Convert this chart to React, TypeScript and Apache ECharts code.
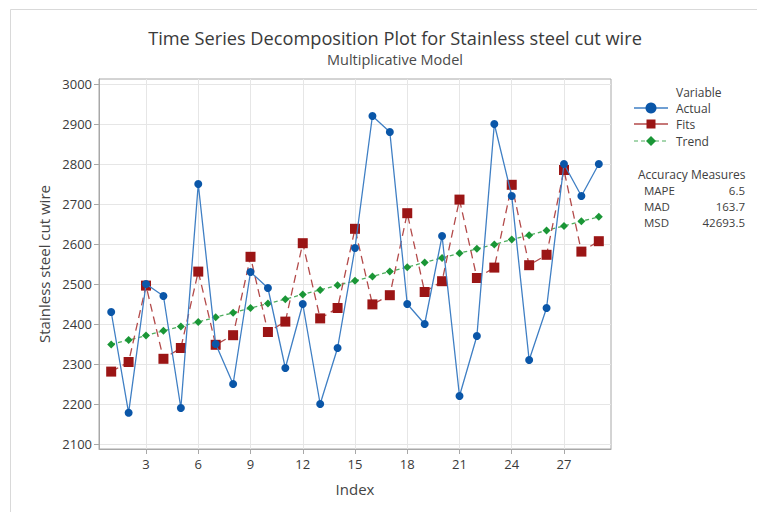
import React, { useEffect, useRef } from "react";
import * as echarts from "echarts";

const indexValues = [1,2,3,4,5,6,7,8,9,10,11,12,13,14,15,16,17,18,19,20,21,22,23,24,25,26,27,28,29];
const actualValues = [2430,2178,2500,2470,2190,2750,2350,2250,2530,2490,2290,2450,2200,2340,2590,2920,2880,2450,2400,2620,2220,2370,2900,2720,2310,2440,2800,2720,2800];
const fitsValues = [2281,2305,2496,2313,2340,2531,2348,2372,2568,2380,2406,2602,2414,2440,2638,2449,2472,2677,2480,2507,2711,2515,2541,2748,2547,2573,2785,2581,2607];
const trendValues = [2349,2360,2371,2383,2394,2405,2417,2428,2440,2451,2462,2474,2485,2497,2508,2519,2531,2542,2554,2565,2577,2588,2599,2611,2622,2634,2645,2657,2668];
const yTicks = [2100,2200,2300,2400,2500,2600,2700,2800,2900,3000];
const xTicks = [3,6,9,12,15,18,21,24,27];
const legendNames = ["Actual", "Fits", "Trend"];
const measureNames = ["MAPE", "MAD", "MSD"];
const measureValues = ["6.5", "163.7", "42693.5"];

const FONT = "'Open Sans', 'Noto Sans', sans-serif";
const BLUE = "#0a56a8";
const BLUE_LINE = "#3f7fc4";
const RED = "#9b1515";
const RED_LINE = "#b34a4a";
const GREEN = "#1a9636";
const GREEN_LINE = "#4fae5f";

export default function App() {
  const ref = useRef<HTMLDivElement>(null);
  useEffect(() => {
    document.body.style.margin = "0";
    const chart = echarts.init(ref.current!, null, { renderer: "svg" });
    const pair = (vals: number[]) => vals.map((v, i) => [indexValues[i], v]);
    const legendX = 634, legendW = 34, legendTextX = 676;
    const legendYs = [108, 124, 141];
    const txt = (size: number) => ({ font: `${size}px ${FONT}`, fill: "#404040", verticalAlign: "middle", lineHeight: 13 });
    const graphics: any[] = [
      { type: "rect", shape: { x: 10.5, y: 9.5, width: 800, height: 520 }, style: { fill: "none", stroke: "#d9d9d9", lineWidth: 1 }, silent: true },
      { type: "text", x: legendTextX, y: 92, style: { text: "Variable", ...txt(12) } },
      // Actual
      { type: "line", shape: { x1: legendX, y1: legendYs[0], x2: legendX + legendW, y2: legendYs[0] }, style: { stroke: BLUE_LINE, lineWidth: 1.5 } },
      { type: "circle", shape: { cx: legendX + legendW / 2, cy: legendYs[0], r: 5.5 }, style: { fill: BLUE } },
      // Fits
      { type: "line", shape: { x1: legendX, y1: legendYs[1], x2: legendX + legendW, y2: legendYs[1] }, style: { stroke: RED_LINE, lineWidth: 1.5 } },
      { type: "rect", shape: { x: legendX + legendW / 2 - 4.5, y: legendYs[1] - 4.5, width: 9, height: 9 }, style: { fill: RED } },
      // Trend
      { type: "line", shape: { x1: legendX, y1: legendYs[2], x2: legendX + legendW, y2: legendYs[2] }, style: { stroke: GREEN_LINE, lineWidth: 1.2, lineDash: [4, 3] } },
      { type: "polygon", shape: { points: [[legendX + legendW / 2, legendYs[2] - 5], [legendX + legendW / 2 + 5, legendYs[2]], [legendX + legendW / 2, legendYs[2] + 5], [legendX + legendW / 2 - 5, legendYs[2]]] }, style: { fill: GREEN } },
      { type: "text", x: 638, y: 174, style: { text: "Accuracy Measures", ...txt(12) } },
    ];
    legendNames.forEach((n, i) => {
      graphics.push({ type: "text", x: legendTextX, y: legendYs[i], style: { text: n, ...txt(12) } });
    });
    measureNames.forEach((n, i) => {
      const y = 190 + i * 16;
      graphics.push({ type: "text", x: 644, y, style: { text: n, ...txt(11.5) } });
      graphics.push({ type: "text", x: 745, y, style: { text: measureValues[i], ...txt(11.5), align: "right" } });
    });

    chart.setOption({
      animation: false,
      backgroundColor: "#ffffff",
      title: [
        { text: "Time Series Decomposition Plot for Stainless steel cut wire", left: 390, top: 24, textAlign: "center", textStyle: { fontFamily: FONT, fontSize: 18.2, fontWeight: "normal", color: "#3a3a3a" } },
        { text: "Multiplicative Model", left: 390, top: 47, textAlign: "center", textStyle: { fontFamily: FONT, fontSize: 14.5, fontWeight: "normal", color: "#4a4a4a" } },
      ],
      grid: { left: 99, top: 79, width: 512, height: 370, show: true, borderColor: "#a8a8a8", borderWidth: 1, backgroundColor: "transparent" },
      xAxis: {
        type: "value", min: 0.3, max: 29.7,
        name: "Index", nameLocation: "middle", nameGap: 32,
        nameTextStyle: { fontFamily: FONT, fontSize: 15, color: "#444" },
        axisLine: { show: true, lineStyle: { color: "#a8a8a8" } },
        axisTick: { show: true, length: 5, lineStyle: { color: "#a8a8a8" }, customValues: xTicks },
        axisLabel: { fontFamily: FONT, fontSize: 13, color: "#3a3a3a", margin: 8, customValues: xTicks, formatter: (v: number) => String(v) },
        splitLine: { show: true, lineStyle: { color: "#e6e6e6" } },
      },
      yAxis: {
        type: "value", min: 2087.5, max: 3012.5,
        name: "Stainless steel cut wire", nameLocation: "middle", nameGap: 48, nameRotate: 90,
        nameTextStyle: { fontFamily: FONT, fontSize: 15, color: "#444" },
        axisLine: { show: true, lineStyle: { color: "#a8a8a8" } },
        axisTick: { show: true, length: 5, lineStyle: { color: "#a8a8a8" }, customValues: yTicks },
        axisLabel: { fontFamily: FONT, fontSize: 13, color: "#3a3a3a", margin: 7, customValues: yTicks, formatter: (v: number) => String(v) },
        splitLine: { show: true, lineStyle: { color: "#e6e6e6" } },
      },
      graphic: graphics,
      series: [
        {
          name: "Trend", type: "line", data: pair(trendValues), symbol: "diamond", symbolSize: 8,
          itemStyle: { color: GREEN }, lineStyle: { color: GREEN_LINE, width: 1.3, type: [4, 3] }, z: 2,
        },
        {
          name: "Fits", type: "line", data: pair(fitsValues), symbol: "rect", symbolSize: 10,
          itemStyle: { color: RED }, lineStyle: { color: RED_LINE, width: 1.3, type: [8, 5] }, z: 3,
        },
        {
          name: "Actual", type: "line", data: pair(actualValues), symbol: "circle", symbolSize: 8,
          itemStyle: { color: BLUE }, lineStyle: { color: BLUE_LINE, width: 1.3 }, z: 4,
        },
      ],
    });
    return () => chart.dispose();
  }, []);
  return <div ref={ref} style={{ width: 757, height: 512 }} />;
}
